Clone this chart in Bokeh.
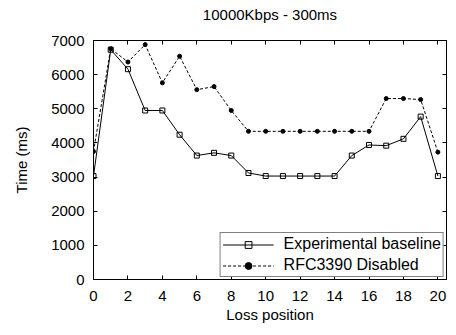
from bokeh.plotting import figure
from bokeh.models import Range1d, LinearAxis, FixedTicker, Legend, LegendItem
from bokeh.embed import file_html
from bokeh.resources import INLINE

positions = list(range(0, 21))
baseline = [3030, 6730, 6160, 4950, 4950, 4240, 3630, 3710, 3630, 3120,
            3030, 3030, 3030, 3030, 3030, 3630, 3940, 3920, 4120, 4770, 3030]
rfc3390_disabled = [3750, 6760, 6370, 6880, 5760, 6540, 5560, 5650, 4950, 4340,
                    4340, 4340, 4340, 4340, 4340, 4340, 4340, 5300, 5300, 5270, 3730]
x_ticks = list(range(0, 21, 2))
y_ticks = list(range(0, 7001, 1000))
title_text = "10000Kbps - 300ms"
x_label = "Loss position"
y_label = "Time (ms)"
series_names = ["Experimental baseline", "RFC3390 Disabled"]

FONT = "Liberation Sans"

p = figure(width=456, height=335, output_backend="svg", toolbar_location=None,
           x_range=Range1d(0, 20.5), y_range=Range1d(0, 7000),
           min_border_left=93, min_border_right=10, min_border_top=40, min_border_bottom=56)

p.xgrid.visible = False
p.ygrid.visible = False
p.outline_line_color = "black"
p.outline_line_width = 1
p.background_fill_color = "white"
p.border_fill_color = "white"

def style_axis(ax, ticks, labels=True):
    ax.ticker = FixedTicker(ticks=ticks)
    ax.major_tick_in = 4
    ax.major_tick_out = 0
    ax.minor_tick_line_color = None
    ax.axis_line_color = "black"
    ax.major_tick_line_color = "black"
    ax.major_label_text_font = FONT
    ax.major_label_text_color = "black"
    ax.major_label_text_font_size = "15px"
    ax.axis_label_text_font = FONT
    ax.axis_label_text_font_size = "15px"
    ax.axis_label_text_font_style = "normal"
    ax.axis_label_text_color = "black"
    if labels:
        ax.major_label_standoff = 9
    else:
        ax.major_label_overrides = {t: "" for t in ticks}
        ax.major_label_standoff = 0

style_axis(p.xaxis[0], x_ticks)
style_axis(p.yaxis[0], y_ticks)
p.xaxis[0].major_label_standoff = 11
p.xaxis[0].axis_label = x_label
p.yaxis[0].axis_label = y_label
p.xaxis[0].axis_label_standoff = 2
p.yaxis[0].axis_label_standoff = 18

# top mirror axis carries the chart title as its label
top_axis = LinearAxis()
style_axis(top_axis, x_ticks, labels=False)
top_axis.axis_label = title_text
top_axis.axis_label_standoff = 18
p.add_layout(top_axis, "above")
right_axis = LinearAxis()
style_axis(right_axis, y_ticks, labels=False)
p.add_layout(right_axis, "right")

l1 = p.line(positions, baseline, line_color="black", line_width=1)
m1 = p.scatter(positions, baseline, marker="square", size=5, line_color="black",
               fill_color=None, line_width=1)
l2 = p.line(positions, rfc3390_disabled, line_color="black", line_width=1, line_dash="3 2")
m2 = p.scatter(positions, rfc3390_disabled, marker="circle", size=4, line_color="black",
               fill_color="black")

legend = Legend(items=[LegendItem(label=series_names[0], renderers=[l1, m1]),
                       LegendItem(label=series_names[1], renderers=[l2, m2])],
                location="bottom_right")
legend.margin = 2
legend.padding = 2
legend.spacing = 3
legend.glyph_width = 51
legend.glyph_height = 17
legend.label_height = 17
legend.label_standoff = 10
legend.label_text_font = FONT
legend.label_text_font_size = "16px"
legend.label_text_color = "black"
legend.border_line_color = "black"
legend.border_line_width = 1
legend.background_fill_color = "white"
legend.background_fill_alpha = 1
p.add_layout(legend, "center")

open("out.html", "w").write(file_html(p, INLINE))
